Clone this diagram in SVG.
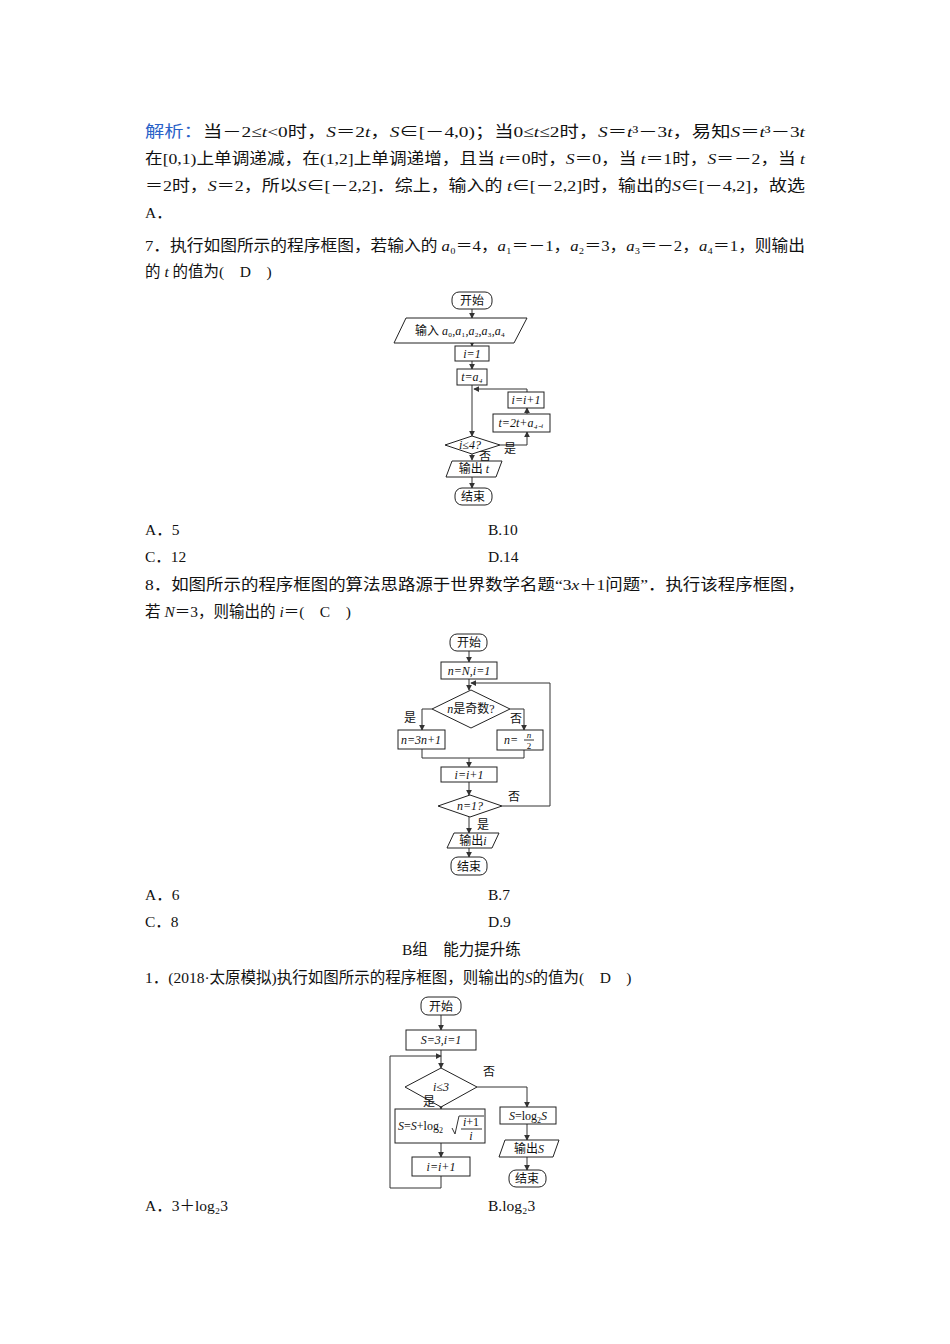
<svg xmlns="http://www.w3.org/2000/svg" width="950" height="1344" viewBox="0 0 950 1344">
<style>
text{font-family:"Liberation Serif","Noto Sans CJK SC",serif;fill:#111}
.t{font-size:15.5px}
.f{font-size:12px}
.i{font-style:italic}
.b{fill:#2a62c8}
.s{fill:#fff;stroke:#222;stroke-width:1}
.l{fill:none;stroke:#333;stroke-width:1}
</style>
<defs><marker id="a" viewBox="0 0 8 8" refX="7" refY="4" markerWidth="6" markerHeight="6" orient="auto"><path d="M0,0 L8,4 L0,8 z" fill="#333"/></marker></defs>
<rect width="950" height="1344" fill="#fff"/>
<g id="text">
<text class="t" x="145" y="137" textLength="660" lengthAdjust="spacingAndGlyphs"><tspan class="b">解析：</tspan>当－2≤<tspan class="i">t</tspan>&lt;0时，<tspan class="i">S</tspan>＝2<tspan class="i">t</tspan>，<tspan class="i">S</tspan>∈[－4,0)；当0≤<tspan class="i">t</tspan>≤2时，<tspan class="i">S</tspan>＝<tspan class="i">t</tspan>³－3<tspan class="i">t</tspan>，易知<tspan class="i">S</tspan>＝<tspan class="i">t</tspan>³－3<tspan class="i">t</tspan></text>
<text class="t" x="145" y="164" textLength="660" lengthAdjust="spacingAndGlyphs">在[0,1)上单调递减，在(1,2]上单调递增，且当 <tspan class="i">t</tspan>＝0时，<tspan class="i">S</tspan>＝0，当 <tspan class="i">t</tspan>＝1时，<tspan class="i">S</tspan>＝－2，当 <tspan class="i">t</tspan></text>
<text class="t" x="145" y="191" textLength="660" lengthAdjust="spacingAndGlyphs">＝2时，<tspan class="i">S</tspan>＝2，所以<tspan class="i">S</tspan>∈[－2,2]．综上，输入的 <tspan class="i">t</tspan>∈[－2,2]时，输出的<tspan class="i">S</tspan>∈[－4,2]，故选</text>
<text class="t" x="145" y="218">A．</text>
<text class="t" x="145" y="251" textLength="660" lengthAdjust="spacingAndGlyphs">7．执行如图所示的程序框图，若输入的 <tspan class="i">a</tspan>₀＝4，<tspan class="i">a</tspan>₁＝－1，<tspan class="i">a</tspan>₂＝3，<tspan class="i">a</tspan>₃＝－2，<tspan class="i">a</tspan>₄＝1，则输出</text>
<text class="t" x="145" y="277">的 <tspan class="i">t</tspan> 的值为(　D　)</text>
<text class="t" x="145" y="535">A．5</text><text class="t" x="488" y="535">B.10</text>
<text class="t" x="145" y="562">C．12</text><text class="t" x="488" y="562">D.14</text>
<text class="t" x="145" y="590" textLength="660" lengthAdjust="spacingAndGlyphs">8．如图所示的程序框图的算法思路源于世界数学名题“3<tspan class="i">x</tspan>＋1问题”．执行该程序框图，</text>
<text class="t" x="145" y="617">若 <tspan class="i">N</tspan>＝3，则输出的 <tspan class="i">i</tspan>＝(　C　)</text>
<text class="t" x="145" y="900">A．6</text><text class="t" x="488" y="900">B.7</text>
<text class="t" x="145" y="927">C．8</text><text class="t" x="488" y="927">D.9</text>
<text class="t" x="402" y="955">B组　能力提升练</text>
<text class="t" x="145" y="983">1．(2018·太原模拟)执行如图所示的程序框图，则输出的<tspan class="i">S</tspan>的值为(　D　)</text>
<text class="t" x="145" y="1211">A．3＋log₂3</text><text class="t" x="488" y="1211">B.log₂3</text>
</g>
<g id="connectors">
<path class="l" d="M472,309V318" marker-end="url(#a)"/>
<path class="l" d="M472,343V346" marker-end="url(#a)"/>
<path class="l" d="M472,361V369" marker-end="url(#a)"/>
<path class="l" d="M472,385V436" marker-end="url(#a)"/>
<path class="l" d="M500,445H527V432" marker-end="url(#a)"/>
<path class="l" d="M527,414V408" marker-end="url(#a)"/>
<path class="l" d="M527,392V389H474" marker-end="url(#a)"/>
<path class="l" d="M472,454V460" marker-end="url(#a)"/>
<path class="l" d="M472,477V488" marker-end="url(#a)"/>
<path class="l" d="M469,651V662" marker-end="url(#a)"/>
<path class="l" d="M469,679V690" marker-end="url(#a)"/>
<path class="l" d="M432,709H422V730" marker-end="url(#a)"/>
<path class="l" d="M510,709H524V730" marker-end="url(#a)"/>
<path class="l" d="M422,749V758H524V750"/>
<path class="l" d="M469,758V767" marker-end="url(#a)"/>
<path class="l" d="M469,782V795" marker-end="url(#a)"/>
<path class="l" d="M502,806H550V683H471" marker-end="url(#a)"/>
<path class="l" d="M469,817V833" marker-end="url(#a)"/>
<path class="l" d="M469,848V857" marker-end="url(#a)"/>
<path class="l" d="M441,1015V1030" marker-end="url(#a)"/>
<path class="l" d="M441,1050V1068" marker-end="url(#a)"/>
<path class="l" d="M441,1107V1109" marker-end="url(#a)"/>
<path class="l" d="M441,1143V1157" marker-end="url(#a)"/>
<path class="l" d="M441,1176V1188H390V1056H441" marker-end="url(#a)"/>
<path class="l" d="M477,1087H527V1107" marker-end="url(#a)"/>
<path class="l" d="M527,1124V1140" marker-end="url(#a)"/>
<path class="l" d="M527,1157V1170" marker-end="url(#a)"/>
</g>
<g id="n1-start"><rect class="s" x="452" y="292" width="40" height="17" rx="7"/><text class="f" x="472" y="305" text-anchor="middle">开始</text></g>
<g id="n1-input"><path class="s" d="M406,318H527L514,343H394z"/><text class="f" x="460" y="335" text-anchor="middle">输入 <tspan class="i">a</tspan>₀,<tspan class="i">a</tspan>₁,<tspan class="i">a</tspan>₂,<tspan class="i">a</tspan>₃,<tspan class="i">a</tspan>₄</text></g>
<g id="n1-i1"><rect class="s" x="455" y="346" width="34" height="15"/><text class="f i" x="472" y="358" text-anchor="middle">i=1</text></g>
<g id="n1-t"><rect class="s" x="457" y="369" width="30" height="16"/><text class="f i" x="472" y="381" text-anchor="middle">t=a₄</text></g>
<g id="n1-inc"><rect class="s" x="508" y="392" width="36" height="16"/><text class="f i" x="526" y="404" text-anchor="middle">i=i+1</text></g>
<g id="n1-upd"><rect class="s" x="493" y="414" width="57" height="18"/><text class="f i" x="521" y="427" text-anchor="middle">t=2t+a₄₋ᵢ</text></g>
<g id="n1-cond"><path class="s" d="M445,445L472,436L500,445L472,454z"/><text class="f i" x="470" y="449" text-anchor="middle">i≤4?</text><text class="f" x="504" y="453">是</text><text class="f" x="479" y="461">否</text></g>
<g id="n1-out"><path class="s" d="M452,461H502L496,477H446z"/><text class="f" x="474" y="473" text-anchor="middle">输出 <tspan class="i">t</tspan></text></g>
<g id="n1-end"><rect class="s" x="455" y="488" width="37" height="17" rx="7"/><text class="f" x="473" y="501" text-anchor="middle">结束</text></g>
<g id="n2-start"><rect class="s" x="450" y="634" width="37" height="17" rx="7"/><text class="f" x="469" y="647" text-anchor="middle">开始</text></g>
<g id="n2-init"><rect class="s" x="441" y="662" width="56" height="17"/><text class="f i" x="469" y="675" text-anchor="middle">n=N,i=1</text></g>
<g id="n2-odd"><path class="s" d="M432,709L471,690L510,709L471,728z"/><text class="f" x="471" y="713" text-anchor="middle"><tspan class="i">n</tspan>是奇数?</text><text class="f" x="404" y="722">是</text><text class="f" x="510" y="723">否</text></g>
<g id="n2-3n"><rect class="s" x="398" y="730" width="47" height="19"/><text class="f i" x="421" y="744" text-anchor="middle">n=3n+1</text></g>
<g id="n2-half"><rect class="s" x="497" y="730" width="46" height="20"/><text class="f i" x="511" y="744" text-anchor="middle">n=</text><text x="529" y="738" font-size="9" font-style="italic" text-anchor="middle">n</text><path class="l" d="M524,740H534"/><text x="529" y="748.5" font-size="9" text-anchor="middle">2</text></g>
<g id="n2-inc"><rect class="s" x="441" y="767" width="56" height="15"/><text class="f i" x="469" y="779" text-anchor="middle">i=i+1</text></g>
<g id="n2-cond"><path class="s" d="M438,806L470,795L502,806L470,817z"/><text class="f i" x="470" y="810" text-anchor="middle">n=1?</text><text class="f" x="508" y="801">否</text><text class="f" x="477" y="829">是</text></g>
<g id="n2-out"><path class="s" d="M454,833H499L492,848H447z"/><text class="f" x="473" y="845" text-anchor="middle">输出<tspan class="i">i</tspan></text></g>
<g id="n2-end"><rect class="s" x="451" y="857" width="36" height="18" rx="7"/><text class="f" x="469" y="871" text-anchor="middle">结束</text></g>
<g id="n3-start"><rect class="s" x="421" y="997" width="40" height="18" rx="7"/><text class="f" x="441" y="1011" text-anchor="middle">开始</text></g>
<g id="n3-init"><rect class="s" x="406" y="1030" width="70" height="20"/><text class="f i" x="441" y="1044" text-anchor="middle">S=3,i=1</text></g>
<g id="n3-cond"><path class="s" d="M405,1087L441,1068L477,1087L441,1107z"/><text class="f i" x="441" y="1091" text-anchor="middle">i≤3</text><text class="f" x="483" y="1076">否</text><text class="f" x="423" y="1106">是</text></g>
<g id="n3-sum"><rect class="s" x="395" y="1109" width="90" height="34"/><text class="f" x="398" y="1130"><tspan class="i">S</tspan>=<tspan class="i">S</tspan>+log<tspan font-size="8" dy="3">2</tspan></text><path class="l" d="M452,1128L455,1134L459,1116H484"/><text class="f" x="471" y="1126" font-size="11" text-anchor="middle"><tspan class="i">i</tspan>+1</text><path class="l" d="M461,1129H482"/><text class="f i" x="471" y="1140" font-size="11" text-anchor="middle">i</text></g>
<g id="n3-inc"><rect class="s" x="412" y="1157" width="58" height="19"/><text class="f i" x="441" y="1171" text-anchor="middle">i=i+1</text></g>
<g id="n3-log"><rect class="s" x="500" y="1107" width="56" height="17"/><text class="f" x="528" y="1120" text-anchor="middle"><tspan class="i">S</tspan>=log<tspan font-size="8" dy="3">2</tspan><tspan class="i" dy="-3">S</tspan></text></g>
<g id="n3-out"><path class="s" d="M505,1140H559L553,1157H499z"/><text class="f" x="529" y="1153" text-anchor="middle">输出<tspan class="i">S</tspan></text></g>
<g id="n3-end"><rect class="s" x="509" y="1170" width="37" height="17" rx="7"/><text class="f" x="527" y="1183" text-anchor="middle">结束</text></g>
</svg>
